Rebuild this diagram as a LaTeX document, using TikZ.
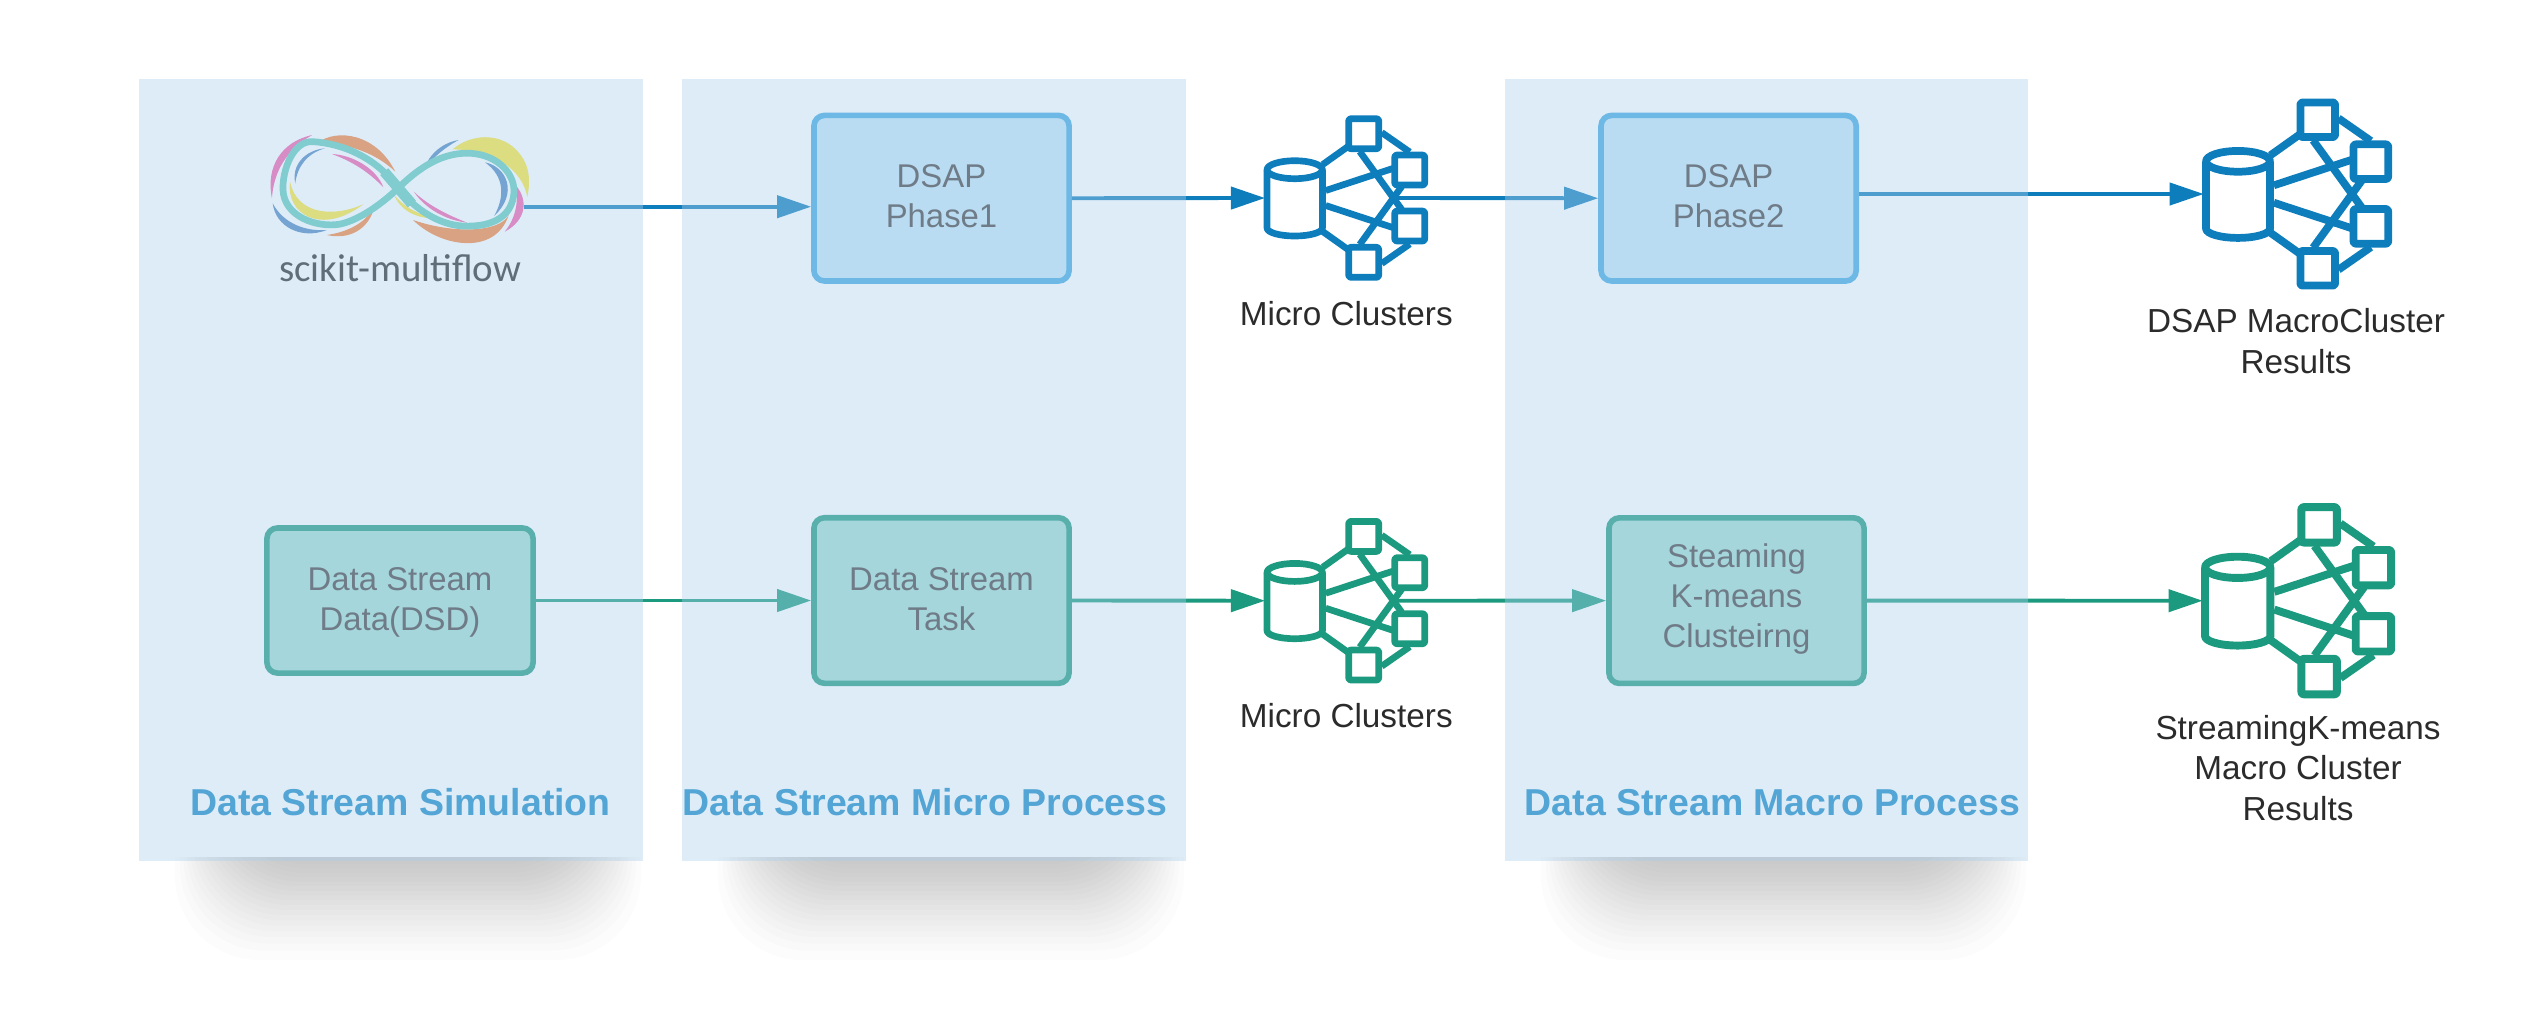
\documentclass[tikz,border=0pt]{standalone}
\usepackage{fontspec}
\usepackage{tikz}
\usetikzlibrary{arrows.meta}
\setmainfont{Liberation Sans}
\newfontfamily\logofont{Carlito}

\definecolor{dsapdark}{HTML}{0E7DBC}
\definecolor{dsapline}{HTML}{43A9E0}
\definecolor{dsapfill}{HTML}{C3E5F7}
\definecolor{kmdark}{HTML}{1B9A7F}
\definecolor{kmline}{HTML}{239B81}
\definecolor{kmfill}{HTML}{A0DBCF}
\definecolor{panelblue}{HTML}{ACCFED}
\definecolor{titleblue}{HTML}{52A5D4}
\definecolor{boxtext}{HTML}{474545}
\definecolor{labeltext}{HTML}{2B2B2B}
\definecolor{logotext}{HTML}{5F6E78}
\definecolor{petalpink}{HTML}{D88CC5}
\definecolor{petalorange}{HTML}{D9A383}
\definecolor{petalblue}{HTML}{75A4D2}
\definecolor{petalyellow}{HTML}{DCDC80}
\definecolor{logoteal}{HTML}{80CCCE}

\tikzset{
  procbox/.style={draw,line width=1.6pt,rounded corners=3pt,align=center,text=boxtext,inner sep=0pt,
    font=\fontsize{9.35}{11.4}\selectfont},
  dsapbox/.style={procbox,draw=dsapline,fill=dsapfill},
  kmbox/.style={procbox,draw=kmline,fill=kmfill},
  flow/.style={-{Triangle[length=9.7pt,width=6.3pt]},line width=1.1pt},
  iconlabel/.style={align=center,anchor=base,text=labeltext,font=\fontsize{9.47}{11.4}\selectfont},
  paneltitle/.style={anchor=base,text=titleblue,font=\fontsize{10.65}{12}\selectfont\bfseries},
  pics/clustericon/.style n args={2}{code={
    \coordinate (-in) at (-2,0);
    \coordinate (-out) at (123,0);
    \begin{scope}[draw=#1,line width=#2,line join=round]
    \draw (0,-28.3) -- (0,30) arc[start angle=180,end angle=0,x radius=27.7,y radius=8] -- (55.4,-28.3);
    \draw (27.7,-28.3) ellipse[x radius=27.7,y radius=9];
    \foreach \cx/\cy in {96.7/-64.3,142.7/-28,142.7/28,96.7/64.3}
      \draw[rounded corners=0.6pt] (\cx-15,\cy-15) rectangle (\cx+15,\cy+15);
    \draw (55.7,-33.5) -- (81,-51.5);
    \draw (55.7,33.5) -- (81,51.5);
    \draw (58.7,-7.5) -- (125.7,-29.5);
    \draw (58.7,7.5) -- (125.7,29.5);
    \draw (92.7,-46.5) -- (134.7,11.5);
    \draw (92.7,46.5) -- (134.7,-11.5);
    \draw (114.7,-65.5) -- (142.7,-46);
    \draw (114.7,65.5) -- (142.7,46);
    \end{scope}
  }}
}

\begin{document}
\begin{tikzpicture}[x=0.01cm,y=-0.01cm]
\useasboundingbox (0,0) rectangle (2528,1035);

\begin{scope}
\clip (0,857) rectangle (2528,1035);
\foreach \pl/\pr in {139/643,682/1186,1505/2028}
  \foreach \i in {0,...,19}
    \fill[black,fill opacity=.0135,rounded corners=24pt] ({\pl+36+52*pow(\i/19,.8)},760) rectangle ({\pr-2-54*pow(\i/19,.8)},{960-100*pow(\i/19,.8)});
\end{scope}

\node[dsapbox,text depth=1pt,minimum width=2.55cm,minimum height=1.655cm] (phaseone) at (941.5,198.2) {DSAP\\Phase1};
\node[dsapbox,text depth=1pt,minimum width=2.55cm,minimum height=1.655cm] (phasetwo) at (1728.6,198.2) {DSAP\\Phase2};
\node[kmbox,text depth=1pt,minimum width=2.66cm,minimum height=1.45cm] (dsddata) at (400,600.5) {Data Stream\\Data(DSD)};
\node[kmbox,text depth=1pt,minimum width=2.55cm,minimum height=1.655cm] (dsdtask) at (941.5,600.5) {Data Stream\\Task};
\node[kmbox,text depth=3pt,minimum width=2.55cm,minimum height=1.655cm] (kmeans) at (1736.5,600.6) {Steaming\\K-means\\Clusteirng};

\pic (microA) at (1267,198) {clustericon={dsapdark}{1.9pt}};
\pic (microB) at (1267,600.7) {clustericon={kmdark}{1.9pt}};
\pic[scale=1.155] (macroA) at (2206,194) {clustericon={dsapdark}{2.2pt}};
\pic[scale=1.18] (macroB) at (2205,600.7) {clustericon={kmdark}{2.25pt}};

\coordinate (logoout) at (524,206.7);

\draw[flow,dsapdark] (logoout) -- (logoout -| phaseone.west);
\draw[flow,dsapdark] (phaseone.east) -- (microA-in);
\draw[flow,dsapdark] (microA-out) -- (phasetwo.west);
\draw[flow,dsapdark] (macroA-in -| phasetwo.east) -- (macroA-in);
\draw[flow,kmdark] (dsddata.east) -- (dsdtask.west);
\draw[flow,kmdark] (dsdtask.east) -- (microB-in);
\draw[flow,kmdark] (microB-out) -- (kmeans.west);
\draw[flow,kmdark] (kmeans.east) -- (macroB-in);

\fill[panelblue,fill opacity=.4] (139,79) rectangle (643,861);
\fill[panelblue,fill opacity=.4] (682,79) rectangle (1186,861);
\fill[panelblue,fill opacity=.4] (1505,79) rectangle (2028,861);

\node[paneltitle] (simtitle) at (400.5,815) {Data Stream Simulation};
\node[paneltitle] (microtitle) at (925,815) {Data Stream Micro Process};
\node[paneltitle] (macrotitle) at (1772.5,815) {Data Stream Macro Process};

\begin{scope}[shift={(230,100)},xscale=.3954,yscale=.3333]
\fill[petalpink] (208,105) .. controls (130,125) and (90,200) .. (106,295) .. controls (110,220) and (140,150) .. (208,105);
\fill[petalorange] (222,128) .. controls (270,85) and (370,100) .. (418,215) .. controls (370,160) and (300,130) .. (222,128);
\fill[petalblue] (240,145) .. controls (190,150) and (155,195) .. (165,250) .. controls (170,200) and (195,160) .. (240,145);
\fill[petalpink] (258,162) .. controls (310,165) and (370,205) .. (388,262) .. controls (350,215) and (310,185) .. (258,162);
\fill[petalyellow] (152,245) .. controls (140,340) and (230,410) .. (338,312) .. controls (270,350) and (170,350) .. (152,245);
\fill[petalblue] (108,310) .. controls (115,380) and (180,420) .. (245,390) .. controls (190,395) and (135,370) .. (108,310);
\fill[petalorange] (245,405) .. controls (300,420) and (350,390) .. (365,322) .. controls (340,370) and (300,395) .. (245,405);
\fill[petalblue] (578,120) .. controls (530,130) and (500,170) .. (488,215) .. controls (510,175) and (540,145) .. (578,120);
\fill[petalyellow] (563,148) .. controls (610,100) and (680,100) .. (720,145) .. controls (760,190) and (760,240) .. (752,292) .. controls (740,210) and (670,150) .. (563,148);
\fill[petalblue] (645,187) .. controls (700,200) and (730,280) .. (668,348) .. controls (695,290) and (695,230) .. (645,187);
\fill[petalpink] (722,255) .. controls (755,300) and (750,360) .. (695,395) .. controls (725,350) and (730,300) .. (722,255);
\fill[petalyellow] (415,285) .. controls (430,330) and (470,355) .. (515,355) .. controls (470,340) and (440,320) .. (415,285);
\fill[petalpink] (465,275) .. controls (490,320) and (540,360) .. (600,368) .. controls (550,345) and (500,315) .. (465,275);
\fill[petalorange] (463,360) .. controls (530,440) and (670,470) .. (705,345) .. controls (680,400) and (560,400) .. (463,360);
\draw[logoteal,line width=1.9pt] (425,265) .. controls (370,170) and (280,130) .. (210,125) .. controls (160,120) and (132,210) .. (134,270) .. controls (137,350) and (220,385) .. (280,372) .. controls (330,358) and (385,310) .. (425,265) .. controls (480,200) and (540,155) .. (610,160) .. controls (675,165) and (722,220) .. (718,280) .. controls (713,345) and (670,382) .. (590,378) .. controls (530,375) and (470,330) .. (425,265);
\draw[logoteal,line width=3pt] (390,215) -- (460,312);
\end{scope}
\node[anchor=base,text=logotext,font=\logofont\fontsize{11.07}{14}\selectfont] (logotitle) at (400,281.7) {scikit-multiflow};

\node[iconlabel] (microlabelA) at (1346.3,325) {Micro Clusters};
\node[iconlabel] (microlabelB) at (1346.3,727) {Micro Clusters};
\node[iconlabel] (macrolabelA) at (2296,373) {DSAP MacroCluster\\Results};
\node[iconlabel] (macrolabelB) at (2298,820) {StreamingK-means\\Macro Cluster\\Results};

\end{tikzpicture}
\end{document}
